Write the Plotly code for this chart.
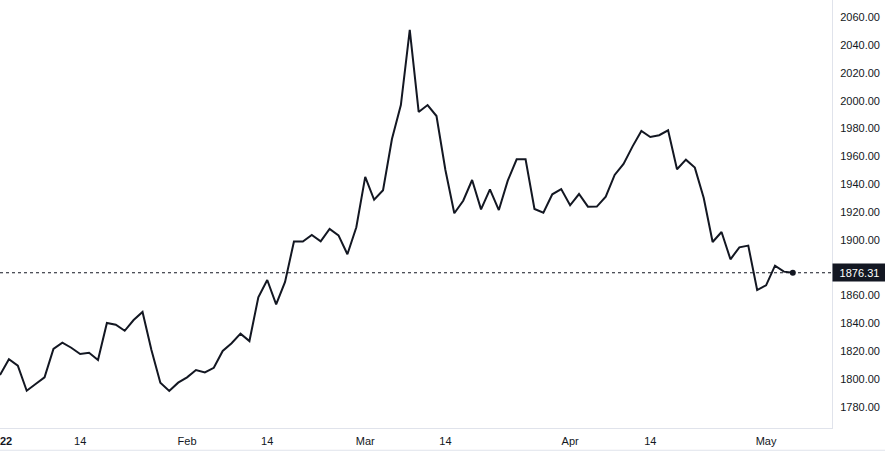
import plotly.graph_objects as go
import pandas as pd

# Trading days (Jan 3 2022 onward, weekdays)
dates = pd.bdate_range("2022-01-03", periods=90)
day_index = list(range(len(dates)))

prices = [
    1802.8, 1814.1, 1809.5, 1791.5, 1796.3, 1801.1, 1821.5, 1826.0, 1822.4, 1817.9,
    1818.8, 1813.6, 1840.2, 1839.0, 1834.6, 1842.3, 1848.1, 1820.8, 1797.3, 1791.3,
    1797.3, 1801.1, 1806.4, 1804.7, 1808.0, 1820.1, 1825.6, 1832.5, 1827.2, 1858.7,
    1871.1, 1853.6, 1869.7, 1898.8, 1898.8, 1903.5, 1898.9, 1907.8, 1903.2, 1889.6,
    1909.0, 1945.2, 1928.8, 1935.6, 1972.5, 1996.9, 2050.9, 1991.9, 1996.9, 1989.0,
    1950.2, 1919.1, 1928.1, 1943.0, 1921.9, 1936.3, 1921.4, 1942.5, 1957.9, 1957.9,
    1922.2, 1919.5, 1932.7, 1936.5, 1924.8, 1932.9, 1923.8, 1923.9, 1931.0, 1946.6,
    1954.5, 1967.0, 1978.2, 1973.9, 1975.2, 1978.7, 1950.7, 1957.6, 1951.9, 1930.1,
    1898.4, 1905.6, 1886.0, 1894.6, 1895.8, 1863.9, 1867.3, 1881.4, 1877.1, 1876.31,
]

last_price = 1876.31

# x-axis tick labels (trading-day index where each label sits)
x_tick_index = [0, 9, 21, 30, 41, 50, 64, 73, 86]
x_tick_text = ["<b>2022</b>", "14", "Feb", "14", "Mar", "14", "Apr", "14", "May"]

y_tick_vals = [1780, 1800, 1820, 1840, 1860, 1900, 1920, 1940, 1960, 1980, 2000, 2020, 2040, 2060]

ink = "#131722"
border = "#e0e3eb"
font_family = "Liberation Sans, Arial, sans-serif"

fig = go.Figure()
fig.add_trace(go.Scatter(
    x=day_index, y=prices, mode="lines",
    line=dict(color=ink, width=2),
    hoverinfo="skip", showlegend=False,
))
fig.add_trace(go.Scatter(
    x=[day_index[-1]], y=[prices[-1]], mode="markers",
    marker=dict(color=ink, size=6),
    hoverinfo="skip", showlegend=False,
))

# dotted last-price line
fig.add_shape(type="line", xref="paper", x0=0, x1=1, yref="y", y0=last_price, y1=last_price,
              line=dict(color=ink, width=1, dash="dot"))

# last-price label on axis
fig.add_annotation(xref="paper", x=1, xanchor="left", yref="y", y=last_price,
                   text="1876.31", showarrow=False,
                   font=dict(color="white", size=11, family=font_family),
                   bgcolor=ink, borderpad=2, width=49, height=13, align="center")

# bottom border line of widget
fig.add_shape(type="line", xref="paper", yref="paper", x0=0, x1=1.07, y0=-0.052, y1=-0.052,
              line=dict(color=border, width=1))

fig.update_layout(
    width=885, height=452,
    margin=dict(l=0, r=53, t=0, b=24, autoexpand=False),
    paper_bgcolor="white", plot_bgcolor="white",
    font=dict(family=font_family, size=11, color=ink),
    xaxis=dict(
        range=[0, 93.4], showgrid=False, zeroline=False, automargin=False,
        tickmode="array", tickvals=x_tick_index, ticktext=x_tick_text,
        ticks="outside", ticklen=3, tickcolor="rgba(0,0,0,0)",
        ticklabeloverflow="allow",
        showline=True, linecolor=border, linewidth=1, mirror=False,
        tickfont=dict(size=11, color=ink),
    ),
    yaxis=dict(
        range=[1764.7, 2072.4], side="right", showgrid=False, zeroline=False, automargin=False,
        tickmode="array", tickvals=y_tick_vals, tickformat=".2f",
        ticks="outside", ticklen=5, tickcolor="rgba(0,0,0,0)",
        showline=True, linecolor=border, linewidth=1,
        tickfont=dict(size=11, color=ink),
    ),
)

fig.write_html("out.html", config={"displayModeBar": False},
               post_script="document.body.style.margin='0';")
